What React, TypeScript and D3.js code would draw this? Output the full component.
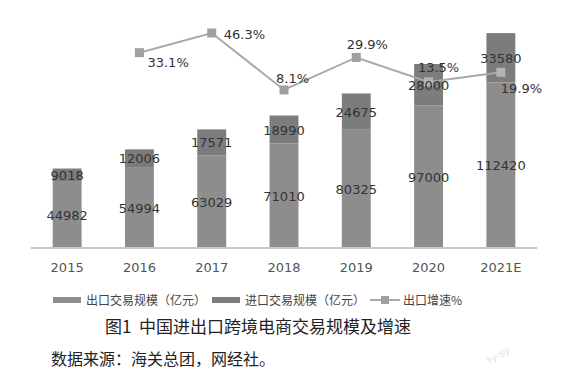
import React from "react";
import * as d3 from "d3";

const categories = ["2015", "2016", "2017", "2018", "2019", "2020", "2021E"];
const exportValues = [44982, 54994, 63029, 71010, 80325, 97000, 112420];
const importValues = [9018, 12006, 17571, 18990, 24675, 28000, 33580];
const growthCategories = ["2016", "2017", "2018", "2019", "2020", "2021E"];
const growthValues = [33.1, 46.3, 8.1, 29.9, 13.5, 19.9];
const legendLabels = ["出口交易规模（亿元）", "进口交易规模（亿元）", "出口增速%"];
const titleText = "图1  中国进出口跨境电商交易规模及增速";
const sourceText = "数据来源：海关总团，网经社。";

const W = 573;
const H = 374;
const FONT = "'DejaVu Sans', Verdana, sans-serif";
const CJK = "'Noto Sans CJK SC', sans-serif";

// label offsets per growth point [dx, dy] relative to marker
const growthLabelPos: Array<[number, number, string]> = [
  [8, 9, "start"],
  [12, 1, "start"],
  [-8, -12, "start"],
  [11, -13, "middle"],
  [10, -15, "middle"],
  [0, 16, "start"],
];

export default function App() {
  const x = d3.scaleBand<string>().domain(categories).range([31, 537]).paddingInner(0.6).paddingOuter(0.3);
  const y = d3.scaleLinear().domain([0, 160000]).range([248, 12.5]);
  const y2 = d3.scaleLinear().domain([0, 50]).range([102, 27.5]);
  const bw = x.bandwidth();
  const cx = (c: string) => (x(c) as number) + bw / 2;

  const line = d3
    .line<number>()
    .x((_, i) => cx(growthCategories[i]))
    .y((d) => y2(d));

  const exportColor = "#8d8d8d";
  const importColor = "#7c7c7c";
  const lineColor = "#a9a9a9";
  const textColor = "#333";

  return (
    <svg
      width={W}
      height={H}
      style={{ position: "absolute", left: 0, top: 0, background: "#fff" }}
    >
      <rect x={0} y={0} width={W} height={H} fill="#fff" />
      {categories.map((c, i) => {
        const e = exportValues[i];
        const im = importValues[i];
        return (
          <g key={c}>
            <rect x={x(c)} y={y(e)} width={bw} height={y(0) - y(e)} fill={exportColor} />
            <rect x={x(c)} y={y(e + im)} width={bw} height={y(e) - y(e + im)} fill={importColor} />
          </g>
        );
      })}
      <line x1={31} x2={537} y1={y(0)} y2={y(0)} stroke="#c8c8c8" strokeWidth={2} />
      {categories.map((c) => (
        <text key={c} x={cx(c)} y={272} textAnchor="middle" fontFamily={FONT} fontSize={13} fill="#555">
          {c}
        </text>
      ))}
      <path d={line(growthValues) || ""} fill="none" stroke={lineColor} strokeWidth={2} />
      {growthValues.map((v, i) => (
        <rect
          key={i}
          x={cx(growthCategories[i]) - 4.5}
          y={y2(v) - 4.5}
          width={9}
          height={9}
          fill={i >= 4 ? "#b4b4b4" : "#a0a0a0"}
        />
      ))}
      {categories.map((c, i) => {
        const e = exportValues[i];
        const im = importValues[i];
        return (
          <g key={"l" + c} fontFamily={FONT} fontSize={13} fill={textColor} textAnchor="middle">
            <text x={cx(c)} y={(y(0) + y(e)) / 2 + 5}>{e}</text>
            <text x={cx(c)} y={(y(e) + y(e + im)) / 2 + 5}>{im}</text>
          </g>
        );
      })}
      {growthValues.map((v, i) => {
        const [dx, dy, anchor] = growthLabelPos[i];
        return (
          <text
            key={"g" + i}
            x={cx(growthCategories[i]) + dx}
            y={y2(v) + dy + 5}
            textAnchor={anchor as any}
            fontFamily={FONT}
            fontSize={13}
            fill={textColor}
          >
            {v.toFixed(1)}%
          </text>
        );
      })}
      {/* legend */}
      <g fontFamily={CJK} fontSize={12} fill="#444">
        <rect x={53} y={297} width={28} height={6} fill={exportColor} />
        <text x={86} y={304.5}>{legendLabels[0]}</text>
        <rect x={212} y={297} width={28} height={6} fill={importColor} />
        <text x={245} y={304.5}>{legendLabels[1]}</text>
        <line x1={370} x2={400} y1={300} y2={300} stroke={lineColor} strokeWidth={2} />
        <rect x={381} y={296} width={8} height={8} fill="#a0a0a0" />
        <text x={403} y={304.5}>{legendLabels[2]}</text>
      </g>
      <text x={105} y={333} fontFamily={CJK} fontSize={17} fill="#222" xmlSpace="preserve">
        {titleText}
      </text>
      <text x={51} y={365} fontFamily={CJK} fontSize={16} fill="#222">
        {sourceText}
      </text>
      <text
        x={500}
        y={358}
        fontFamily={FONT}
        fontSize={10}
        fill="#e4e4e4"
        transform="rotate(-30 500 358)"
        textAnchor="middle"
      >
        ty-sy
      </text>
    </svg>
  );
}
